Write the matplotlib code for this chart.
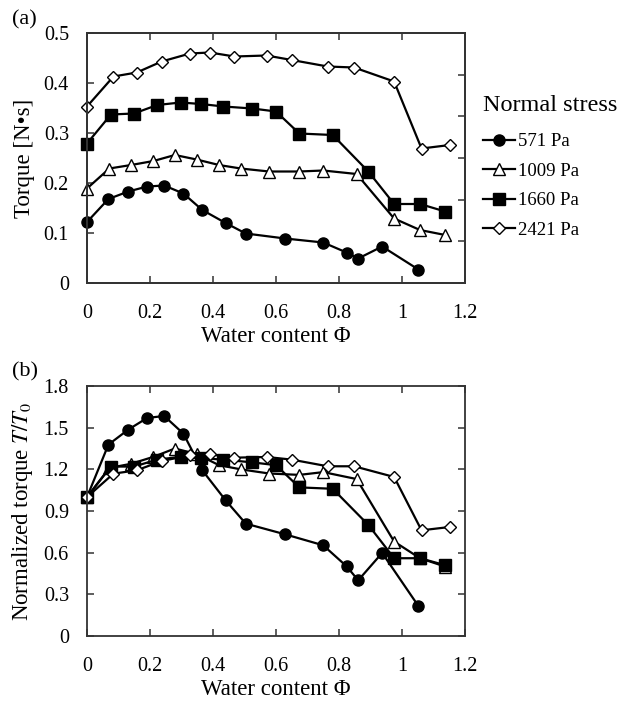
import matplotlib
matplotlib.use("Agg")
import matplotlib.pyplot as plt

plt.rcParams['font.family'] = ['Liberation Serif', 'DejaVu Serif']
plt.rcParams['mathtext.fontset'] = 'stix'

# water content for each normal stress
x_571 = [0, 0.068, 0.131, 0.191, 0.245, 0.306, 0.366, 0.44, 0.504, 0.629, 0.75, 0.824, 0.861, 0.937, 1.052]
x_1009 = [0, 0.071, 0.14, 0.211, 0.279, 0.348, 0.419, 0.488, 0.578, 0.674, 0.75, 0.856, 0.975, 1.057, 1.137]
x_1660 = [0, 0.076, 0.149, 0.223, 0.297, 0.362, 0.433, 0.525, 0.6, 0.674, 0.78, 0.893, 0.975, 1.057, 1.137]
x_2421 = [0, 0.084, 0.158, 0.237, 0.327, 0.39, 0.468, 0.57, 0.65, 0.764, 0.848, 0.975, 1.062, 1.152]

# torque [N s]
t_571 = [0.122, 0.168, 0.183, 0.193, 0.195, 0.179, 0.146, 0.120, 0.099, 0.089, 0.081, 0.061, 0.049, 0.073, 0.027]
t_1009 = [0.189, 0.229, 0.236, 0.244, 0.256, 0.247, 0.236, 0.229, 0.223, 0.223, 0.225, 0.218, 0.129, 0.106, 0.096]
t_1660 = [0.279, 0.337, 0.339, 0.356, 0.361, 0.358, 0.353, 0.349, 0.343, 0.299, 0.296, 0.223, 0.158, 0.158, 0.143]
t_2421 = [0.353, 0.413, 0.421, 0.443, 0.459, 0.461, 0.453, 0.455, 0.446, 0.433, 0.431, 0.403, 0.269, 0.276]

# normalized torque T/T0
n_571 = [1.0, 1.378, 1.486, 1.57, 1.584, 1.457, 1.193, 0.977, 0.809, 0.732, 0.653, 0.502, 0.401, 0.598, 0.216]
n_1009 = [1.0, 1.21, 1.24, 1.29, 1.35, 1.31, 1.23, 1.20, 1.17, 1.16, 1.18, 1.13, 0.68, 0.56, 0.50]
n_1660 = [1.0, 1.22, 1.22, 1.27, 1.29, 1.28, 1.27, 1.25, 1.23, 1.07, 1.06, 0.80, 0.56, 0.56, 0.51]
n_2421 = [1.0, 1.169, 1.193, 1.26, 1.301, 1.308, 1.284, 1.289, 1.27, 1.222, 1.222, 1.145, 0.761, 0.785]

labels = ['571 Pa', '1009 Pa', '1660 Pa', '2421 Pa']
xs = [x_571, x_1009, x_1660, x_2421]
torques = [t_571, t_1009, t_1660, t_2421]
norms = [n_571, n_1009, n_1660, n_2421]
styles = [('o', 'black', 8), ('^', 'white', 8.5), ('s', 'black', 8), ('D', 'white', 6.5)]

W, H = 619, 702
fig = plt.figure(figsize=(W / 100, H / 100), dpi=100)
ax1 = fig.add_axes([87 / W, 1 - 283 / H, 378 / W, 250 / H])
ax2 = fig.add_axes([87 / W, 1 - 636 / H, 378 / W, 250 / H])


def style_axes(ax):
    for s in ax.spines.values():
        s.set_linewidth(1.3)
        s.set_color('#333333')
    ax.tick_params(direction='in', length=5, width=1.1, color='#333333',
                   top=True, right=True, labelsize=14.5)
    ax.tick_params(axis='x', pad=15)
    ax.tick_params(axis='y', pad=13)
    ax.set_xlim(0, 1.2)
    ax.set_xticks([0, 0.2, 0.4, 0.6, 0.8, 1.0, 1.2])
    ax.set_xticklabels(['0', '0.2', '0.4', '0.6', '0.8', '1', '1.2'])
    ax.set_xlabel('Water content Φ', fontsize=16.5, labelpad=2)


lines = []
for x, t, lab, (m, fc, ms) in zip(xs, torques, labels, styles):
    ln, = ax1.plot(x, t, marker=m, color='black', mfc=fc, mec='black', ms=ms,
                   lw=1.6, mew=1.0, label=lab, clip_on=False)
    lines.append(ln)
for x, n, (m, fc, ms) in zip(xs, norms, styles):
    ax2.plot(x, n, marker=m, color='black', mfc=fc, mec='black', ms=ms,
             lw=1.6, mew=1.0, clip_on=False)

style_axes(ax1)
ax1.set_ylim(0, 0.5)
ax1.set_yticks([0, 0.1, 0.2, 0.3, 0.4, 0.5])
ax1.set_yticklabels(['0', '0.1', '0.2', '0.3', '0.4', '0.5'])
ax1.set_ylabel('Torque [N•s]', fontsize=16.5, labelpad=6)
# secondary axis ticks on the right
ax1.tick_params(right=False)
sec = ax1.twinx()
sec.set_ylim(0, 6)
sec.set_yticks(range(7))
sec.tick_params(direction='in', length=5, width=1.1, color='#333333', labelright=False)
for s in sec.spines.values():
    s.set_linewidth(1.3)
    s.set_color('#333333')

style_axes(ax2)
ax2.set_ylim(0, 1.8)
ax2.set_yticks([0, 0.3, 0.6, 0.9, 1.2, 1.5, 1.8])
ax2.set_yticklabels(['0', '0.3', '0.6', '0.9', '1.2', '1.5', '1.8'])
ax2.set_ylabel('Normalized torque $T/T_0$', fontsize=16.5, labelpad=6)

fig.text(12 / W, 1 - 20 / H, '(a)', fontsize=16, va='center', ha='left')
fig.text(12 / W, 1 - 372 / H, '(b)', fontsize=16, va='center', ha='left')

leg = fig.legend(handles=lines, loc='upper left', bbox_to_anchor=(474 / W, 1 - 86 / H),
                 frameon=False, fontsize=13.5, title='Normal stress', title_fontsize=17.5,
                 handlelength=1.7, handletextpad=0.15, labelspacing=0.66,
                 alignment='left', borderpad=0)
leg._legend_box.sep = 12

fig.savefig('out.png', dpi=100)
